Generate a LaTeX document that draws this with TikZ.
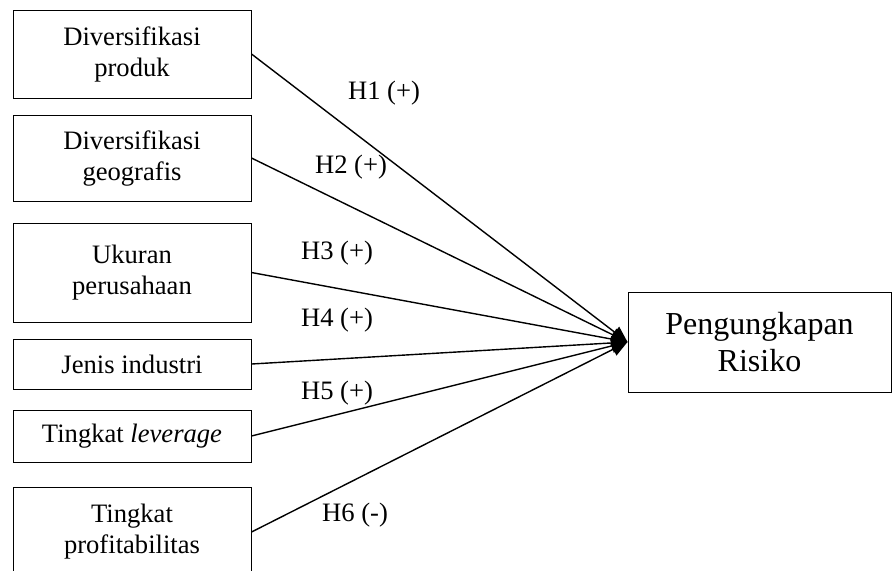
\documentclass[tikz,border=0pt]{standalone}
\usepackage{fontspec}
\setmainfont{Liberation Serif}
\usetikzlibrary{arrows.meta}
\tikzset{
  varbox/.style={draw, line width=0.5pt, minimum width=119pt, align=center, inner sep=0pt,
    font=\fontsize{13.3}{15.5}\selectfont},
  hyplabel/.style={font=\fontsize{13.3}{15.5}\selectfont, inner sep=0pt},
  link/.style={line width=0.7pt, -{Triangle[length=8pt,width=7pt]}}
}
\begin{document}
\begin{tikzpicture}[x=0.5pt,y=-0.5pt]
\useasboundingbox (0,0) rectangle (893,570);
\clip (0,0) rectangle (893,570);
% Independent variables
\node[varbox, minimum height=44pt] (produk) at (132,54) {Diversifikasi\\produk};
\node[varbox, minimum height=43pt] (geografis) at (132,158) {Diversifikasi\\geografis};
\node[varbox, minimum height=49.5pt] (ukuran) at (132,272.5) {Ukuran\\perusahaan};
\node[varbox, minimum height=25pt] (industri) at (132,364) {Jenis industri};
\node[varbox, minimum height=26pt] (leverage) at (132,436) {Tingkat \textit{leverage}};
\node[varbox, minimum height=45pt] (profit) at (132,532) {Tingkat\\profitabilitas};
% Dependent variable
\node[varbox, minimum width=131.5pt, minimum height=50pt,
  font=\fontsize{16}{18.5}\selectfont] (risiko) at (759.5,342) {Pengungkapan\\Risiko};
% Hypotheses
\foreach \src in {produk,geografis,ukuran,industri,leverage,profit}
  \draw[link] (\src.east) -- (risiko.west);
\node[hyplabel] (h1) at (384,93) {H1 (+)};
\node[hyplabel] (h2) at (351,167) {H2 (+)};
\node[hyplabel] (h3) at (337,253) {H3 (+)};
\node[hyplabel] (h4) at (337,320) {H4 (+)};
\node[hyplabel] (h5) at (337,393) {H5 (+)};
\node[hyplabel] (h6) at (355,515) {H6 (-)};
\end{tikzpicture}
\end{document}
